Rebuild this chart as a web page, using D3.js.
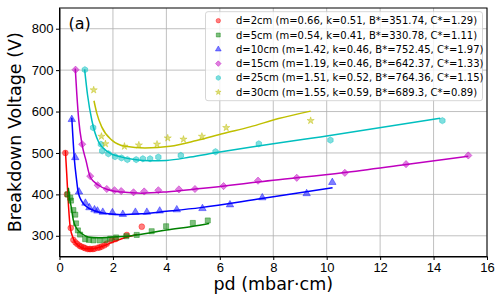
<!DOCTYPE html>
<html>
<head>
<meta charset="utf-8">
<script src="https://cdn.jsdelivr.net/npm/d3@7"></script>
<style>
  body { margin: 0; background: #fff; }
  svg { font-family: "DejaVu Sans", sans-serif; }
  .grid line { stroke: #b0b0b0; stroke-width: 0.8; }
  .axis text { font-size: 13px; fill: #000; }
  .axis path, .axis line { stroke: #000; }
</style>
</head>
<body>
<svg id="chart" width="504" height="303"></svg>
<script>
// measured points, one pair of arrays per gap distance
const pd2 = [0.22, 0.28, 0.42, 0.52, 0.6, 0.67, 0.75, 0.81, 0.9, 0.96, 1.05, 1.12, 1.17, 1.25, 1.31, 1.43, 1.5, 1.58, 1.68, 1.77, 1.96, 2.1, 2.52, 3.08];
const v2 = [500, 400, 319, 290, 284, 280, 276, 274, 272, 270, 268, 268, 268, 268, 269, 271, 272, 274, 277, 281, 289, 292, 302, 322];
const pd5 = [0.3, 0.4, 0.43, 0.52, 0.59, 0.62, 0.69, 0.77, 0.96, 1.1, 1.27, 1.5, 1.71, 1.9, 2.12, 2.5, 2.89, 3.45, 3.99, 4.99, 5.55];
const v5 = [400, 392, 385, 362, 351, 330, 313, 303, 292, 290, 289, 289, 290, 293, 296, 299, 302, 311, 323, 331, 337];
const pd10 = [0.46, 0.59, 0.73, 0.97, 1.12, 1.31, 1.42, 1.62, 1.98, 2.37, 2.84, 3.27, 3.75, 4.39, 5.35, 6.38, 7.59, 9.25, 10.21];
const v10 = [581, 489, 406, 379, 368, 363, 360, 357, 356, 352, 357, 357, 360, 363, 366, 375, 392, 402, 429];
const pd15 = [0.6, 0.85, 1.15, 1.43, 1.77, 2.06, 2.31, 2.77, 3.17, 3.7, 4.47, 5.07, 6.14, 7.43, 8.88, 10.68, 12.97, 15.3];
const v15 = [701, 521, 444, 422, 413, 410, 408, 405, 407, 410, 412, 413, 420, 433, 440, 452, 473, 494];
const pd25 = [0.95, 1.26, 1.55, 1.6, 1.83, 2.08, 2.32, 2.54, 2.87, 3.12, 3.39, 3.7, 4.54, 5.84, 7.46, 10.14, 14.33];
const v25 = [701, 561, 521, 505, 498, 491, 488, 484, 484, 486, 486, 490, 494, 503, 522, 531, 578];
const pd30 = [1.28, 1.57, 1.72, 2.43, 2.97, 3.65, 4.05, 4.64, 5.33, 6.24, 9.4];
const v30 = [652, 540, 522, 516, 519, 521, 536, 533, 540, 561, 578];

// fitted curves
const fitPd2 = [0.22, 0.27, 0.34, 0.4, 0.52, 0.71, 0.96, 1.21, 1.58, 1.96, 2.33, 2.9];
const fitV2 = [506, 450, 369, 321, 293, 276, 268.5, 268.5, 274, 284, 293, 303];
const fitPd5 = [0.33, 0.38, 0.44, 0.52, 0.65, 0.84, 1.08, 1.46, 1.96, 2.5, 3.45, 4.0, 5.0, 5.6];
const fitV5 = [416, 390, 369, 337, 317, 305, 297, 295, 297, 299, 308, 314, 323, 330];
const fitPd10 = [0.46, 0.5, 0.56, 0.63, 0.71, 0.96, 1.33, 1.83, 2.33, 3.08, 4.0, 5.28, 7.57, 10.22];
const fitV10 = [585, 540, 482, 440, 402, 373, 360, 353, 351, 353, 359, 368, 390, 416];
const fitPd15 = [0.59, 0.65, 0.72, 0.84, 0.99, 1.15, 1.46, 1.83, 2.33, 3.08, 4.0, 5.28, 8.0, 10.6, 12.97, 15.3];
const fitV15 = [704, 640, 580, 522, 482, 442, 422, 411, 405.5, 403, 406, 414, 434, 452, 472, 492];
const fitPd25 = [0.94, 1.05, 1.21, 1.46, 1.83, 2.33, 2.8, 3.4, 4.0, 4.89, 5.88, 7.13, 10.0, 14.25];
const fitV25 = [702, 640, 579, 527, 502, 490, 484, 481, 482, 490, 501, 514, 541, 584];
const fitPd30 = [1.29, 1.4, 1.58, 1.96, 2.46, 3.2, 4.14, 5.13, 6.13, 7.13, 8.2, 9.4];
const fitV30 = [626, 595, 563, 531, 516, 512, 516, 530, 547, 563, 583, 601];

const labels = [
  "d=2cm (m=0.66, k=0.51, B*=351.74, C*=1.29)",
  "d=5cm (m=0.54, k=0.41, B*=330.78, C*=1.11)",
  "d=10cm (m=1.42, k=0.46, B*=752.45, C*=1.97)",
  "d=15cm (m=1.19, k=0.46, B*=642.37, C*=1.33)",
  "d=25cm (m=1.51, k=0.52, B*=764.36, C*=1.15)",
  "d=30cm (m=1.55, k=0.59, B*=689.3, C*=0.89)"
];
const colors = ["#ff0000", "#008000", "#0000ff", "#bf00bf", "#00bfbf", "#bfbf00"];

const xTicks = [0, 2, 4, 6, 8, 10, 12, 14, 16];
const yTicks = [300, 400, 500, 600, 700, 800];

// matplotlib style hexagon, point on top
const symbolHexagon = {
  draw(context, size) {
    const r = Math.sqrt(size / (1.5 * Math.sqrt(3)));
    for (let i = 0; i < 6; i++) {
      const a = -Math.PI / 2 + i * Math.PI / 3;
      if (i === 0) context.moveTo(r * Math.cos(a), r * Math.sin(a));
      else context.lineTo(r * Math.cos(a), r * Math.sin(a));
    }
    context.closePath();
  }
};

const series = [
  { pd: pd2, v: v2, fpd: fitPd2, fv: fitV2, sym: d3.symbolCircle, size: 26, rot: 0 },
  { pd: pd5, v: v5, fpd: fitPd5, fv: fitV5, sym: d3.symbolSquare, size: 26, rot: 0 },
  { pd: pd10, v: v10, fpd: fitPd10, fv: fitV10, sym: d3.symbolTriangle, size: 24, rot: 0 },
  { pd: pd15, v: v15, fpd: fitPd15, fv: fitV15, sym: d3.symbolSquare, size: 26, rot: 45 },
  { pd: pd25, v: v25, fpd: fitPd25, fv: fitV25, sym: symbolHexagon, size: 26, rot: 0 },
  { pd: pd30, v: v30, fpd: fitPd30, fv: fitV30, sym: d3.symbolStar, size: 16, rot: 0 }
];

const margin = { top: 8, right: 17, bottom: 46.5, left: 59.5 };
const width = 504 - margin.left - margin.right;
const height = 303 - margin.top - margin.bottom;

const svg = d3.select("#chart");
const g = svg.append("g")
  .attr("transform", "translate(" + margin.left + "," + margin.top + ")");

const x = d3.scaleLinear().domain([0, 16]).range([0, width]);
const y = d3.scaleLinear().domain([250, 850]).range([height, 0]);

// grid
g.append("g").attr("class", "grid")
  .selectAll("line").data(xTicks).enter().append("line")
  .attr("x1", d => x(d)).attr("x2", d => x(d))
  .attr("y1", 0).attr("y2", height);
g.append("g").attr("class", "grid")
  .selectAll("line").data(yTicks).enter().append("line")
  .attr("x1", 0).attr("x2", width)
  .attr("y1", d => y(d)).attr("y2", d => y(d));

const line = d3.line()
  .x(d => x(d[0]))
  .y(d => y(d[1]))
  .curve(d3.curveMonotoneX);

series.forEach((s, i) => {
  const sym = d3.symbol().type(s.sym).size(s.size);
  g.append("g").selectAll("path")
    .data(s.pd.map((p, j) => [p, s.v[j]]))
    .enter().append("path")
    .attr("d", sym)
    .attr("transform", d => "translate(" + x(d[0]) + "," + y(d[1]) + ") rotate(" + s.rot + ")")
    .attr("fill", colors[i])
    .attr("fill-opacity", 0.5)
    .attr("stroke", colors[i])
    .attr("stroke-opacity", 0.5)
    .attr("stroke-width", 0.8);

  g.append("path")
    .datum(s.fpd.map((p, j) => [p, s.fv[j]]))
    .attr("fill", "none")
    .attr("stroke", colors[i])
    .attr("stroke-width", 1.5)
    .attr("d", line);
});

// axes
g.append("g").attr("class", "axis")
  .attr("transform", "translate(0," + height + ")")
  .call(d3.axisBottom(x).tickValues(xTicks).tickSize(3.5).tickPadding(2.5).tickSizeOuter(0));
g.append("g").attr("class", "axis")
  .call(d3.axisLeft(y).tickValues(yTicks).tickSize(3.5).tickPadding(2.5).tickSizeOuter(0));

// frame
g.append("rect")
  .attr("width", width).attr("height", height)
  .attr("fill", "none").attr("stroke", "#000").attr("stroke-width", 1);

// panel tag
g.append("text")
  .attr("x", 9).attr("y", 20.5)
  .attr("font-size", 16)
  .text("(a)");

// legend
const lg = g.append("g").attr("transform", "translate(146,3.7)");
lg.append("rect")
  .attr("width", 277).attr("height", 89)
  .attr("rx", 2.5)
  .attr("fill", "#fff").attr("fill-opacity", 0.8)
  .attr("stroke", "#cccccc").attr("stroke-width", 0.8);
series.forEach((s, i) => {
  const row = lg.append("g").attr("transform", "translate(0," + (9 + i * 14.3) + ")");
  row.append("path")
    .attr("d", d3.symbol().type(s.sym).size(s.size * 0.6))
    .attr("transform", "translate(12.8,0) rotate(" + s.rot + ")")
    .attr("fill", colors[i]).attr("fill-opacity", 0.5)
    .attr("stroke", colors[i]).attr("stroke-opacity", 0.5).attr("stroke-width", 0.8);
  row.append("text")
    .attr("x", 30.5).attr("dy", "0.35em")
    .attr("font-size", 10)
    .text(labels[i]);
});

// axis titles
svg.append("text")
  .attr("x", margin.left + width / 2).attr("y", 290)
  .attr("text-anchor", "middle")
  .attr("font-size", 17.5)
  .text("pd (mbar·cm)");
svg.append("text")
  .attr("transform", "translate(20.5," + (margin.top + height / 2) + ") rotate(-90)")
  .attr("text-anchor", "middle")
  .attr("font-size", 17.5)
  .text("Breakdown Voltage (V)");
</script>
</body>
</html>
